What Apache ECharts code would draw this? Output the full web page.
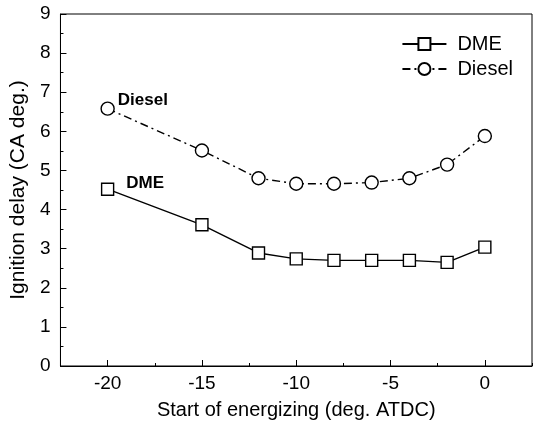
<!DOCTYPE html>
<html>
<head>
<meta charset="utf-8">
<script src="https://cdn.jsdelivr.net/npm/echarts@6/dist/echarts.min.js"></script>
<style>html,body{margin:0;padding:0;background:#fff}#c{width:540px;height:430px}</style>
</head>
<body>
<div id="c"></div>
<script>
var xValues = [-20, -15, -12, -10, -8, -6, -4, -2, 0];
var dmeValues = [4.52, 3.61, 2.89, 2.74, 2.70, 2.70, 2.70, 2.65, 3.04];
var dieselValues = [6.58, 5.51, 4.80, 4.66, 4.66, 4.69, 4.80, 5.15, 5.88];
var xTickLabels = ['', '-20', '', '-15', '', '-10', '', '-5', '', '0', ''];
var seriesNames = ['DME', 'Diesel'];

var font = 'Liberation Sans, Arial, sans-serif';
function pairs(xs, ys) { return xs.map(function (x, i) { return [x, ys[i]]; }); }

var chart = echarts.init(document.getElementById('c'), null, { renderer: 'canvas' });
chart.setOption({
  animation: false,
  backgroundColor: '#fff',
  grid: { left: 58, right: 8, top: 14, bottom: 64, show: true, borderColor: '#000', borderWidth: 1, backgroundColor: 'transparent' },
  legend: {
    right: 22, top: 29, orient: 'vertical', itemWidth: 44, itemHeight: 15, itemGap: 5,
    data: seriesNames,
    textStyle: { fontFamily: font, fontSize: 20, color: '#000', padding: [0, 0, 0, 6] }
  },
  xAxis: [{
    type: 'value', min: -22.5, max: 2.5, interval: 2.5,
    axisLine: { show: true, onZero: false, lineStyle: { color: '#000', width: 1 } },
    axisTick: { show: true, inside: true, length: 3, lineStyle: { color: '#000' } },
    axisLabel: { show: false },
    splitLine: { show: false },
    name: 'Start of energizing (deg. ATDC)', nameLocation: 'middle', nameGap: 34,
    nameTextStyle: { fontFamily: font, fontSize: 20, color: '#000' }
  }, {
    type: 'category', position: 'bottom', boundaryGap: false, data: xTickLabels,
    axisLine: { show: false },
    axisTick: { show: true, inside: true, length: 6, interval: function (i) { return i % 2 === 1; }, lineStyle: { color: '#000' } },
    axisLabel: { show: true, interval: 0, fontFamily: font, fontSize: 19, color: '#000', margin: 8 },
    splitLine: { show: false }
  }],
  yAxis: {
    type: 'value', min: 0, max: 9, interval: 1,
    axisLine: { show: true, onZero: false, lineStyle: { color: '#000', width: 1 } },
    axisTick: { show: true, inside: true, length: 6, lineStyle: { color: '#000' } },
    minorTick: { show: true, splitNumber: 2, length: 3, lineStyle: { color: '#000' } },
    axisLabel: { fontFamily: font, fontSize: 19, color: '#000', margin: 10 },
    splitLine: { show: false },
    name: 'Ignition delay (CA deg.)', nameLocation: 'middle', nameGap: 28,
    nameTextStyle: { fontFamily: font, fontSize: 21, color: '#000' }
  },
  series: [{
    name: seriesNames[0], type: 'line', xAxisIndex: 0,
    data: pairs(xValues, dmeValues),
    symbol: 'rect', symbolSize: 12,
    itemStyle: { color: '#fff', borderColor: '#000', borderWidth: 1.4 },
    lineStyle: { color: '#000', width: 1.4, type: 'solid' },
    label: { show: true, fontFamily: font, fontSize: 17, fontWeight: 'bold', color: '#000',
      position: 'right', distance: 0, offset: [12, -6],
      formatter: function (p) { return p.dataIndex === 0 ? 'DME' : ''; } }
  }, {
    name: seriesNames[1], type: 'line', xAxisIndex: 0,
    data: pairs(xValues, dieselValues),
    symbol: 'circle', symbolSize: 13,
    itemStyle: { color: '#fff', borderColor: '#000', borderWidth: 1.4 },
    lineStyle: { color: '#000', width: 1.4, type: [8, 4, 2, 4] },
    label: { show: true, fontFamily: font, fontSize: 17, fontWeight: 'bold', color: '#000',
      position: 'right', distance: 0, offset: [3, -8],
      formatter: function (p) { return p.dataIndex === 0 ? 'Diesel' : ''; } }
  }]
});
</script>
</body>
</html>
